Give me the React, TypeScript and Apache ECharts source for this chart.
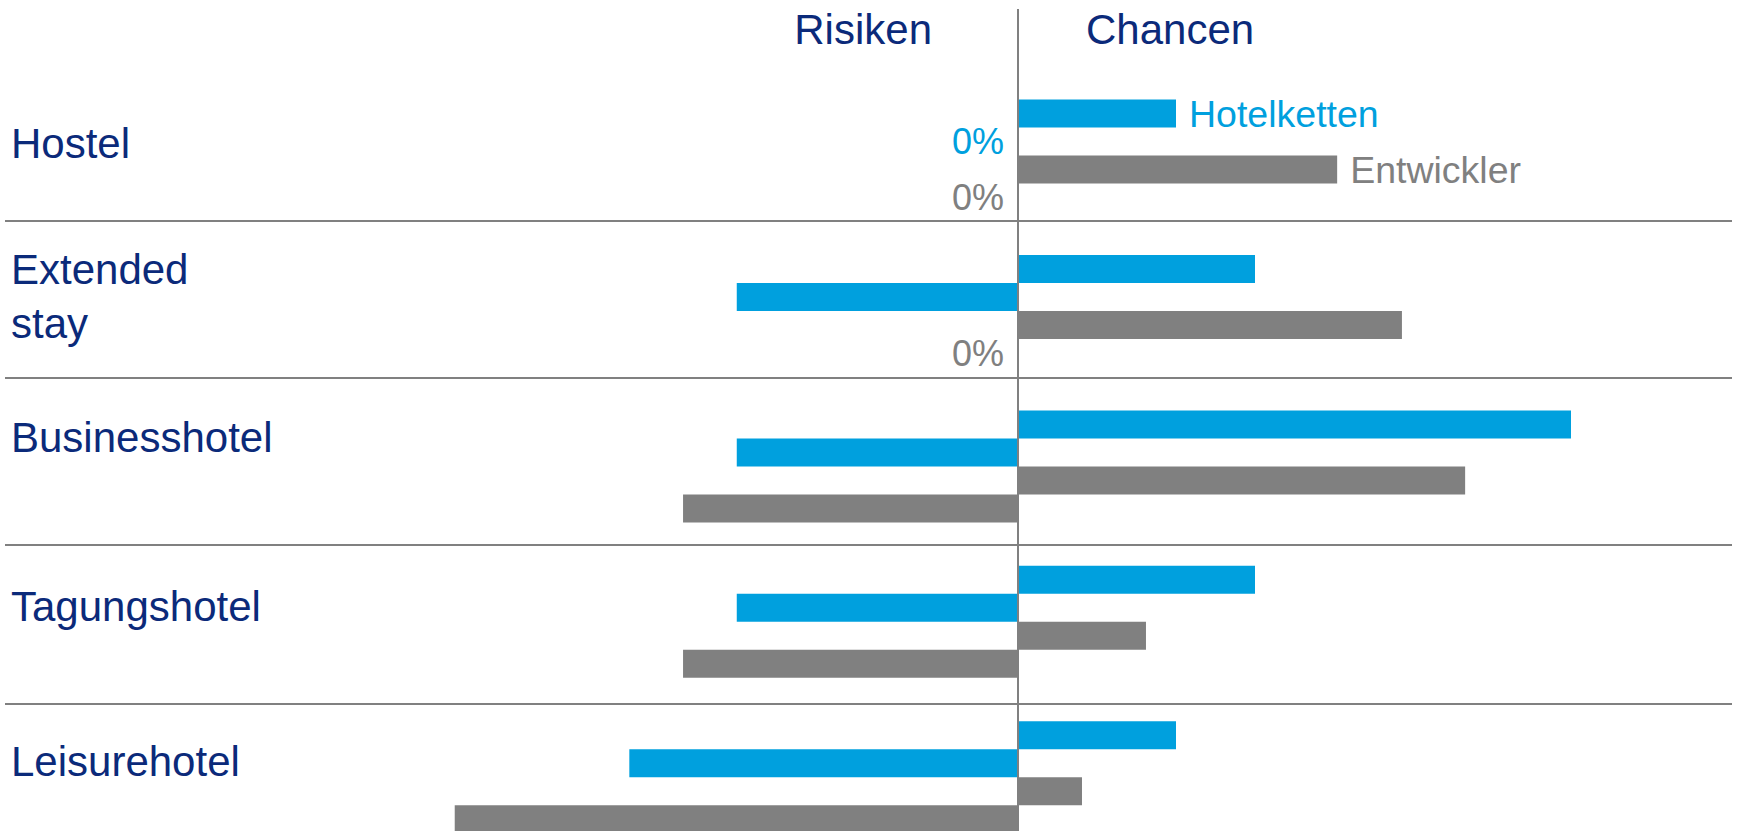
import React, { useEffect, useRef } from "react";
import * as echarts from "echarts";

// ---- data ----
const categories = ["Hostel", "Extended\nstay", "Businesshotel", "Tagungshotel", "Leisurehotel"];
const groupNames = ["Hotelketten", "Entwickler"];
const sideTitles = ["Risiken", "Chancen"];
const hotelkettenChancen = [20, 30, 70, 30, 20];
const hotelkettenRisiken = [0, 35.6, 35.6, 35.6, 49.2];
const entwicklerChancen = [40.4, 48.6, 56.6, 16.2, 8.1];
const entwicklerRisiken = [0, 0, 42.4, 42.4, 71.3];

// ---- styles / layout ----
const BLUE = "#00a0de";
const GRAY = "#808080";
const NAVY = "#0b2a7a";
const FONT = "'Liberation Sans', Arial, sans-serif";
const labelLift = [12.5, 14.5, 29, 15.5, 15.5];
const separatorY = [221, 378, 545, 704];

export default function App() {
  const ref = useRef<HTMLDivElement>(null);

  useEffect(() => {
    if (!ref.current) return;
    const chart = echarts.init(ref.current, undefined, { renderer: "svg" });

    const chanceLabel = (name: string, color: string) => ({
      show: true,
      position: "right",
      distance: 13,
      fontSize: 37.5,
      fontFamily: FONT,
      color,
      formatter: (p: any) => (p.dataIndex === 0 ? name : ""),
    });
    const riskLabel = (color: string) => ({
      show: true,
      position: "left",
      distance: 14,
      fontSize: 36,
      fontFamily: FONT,
      color,
      formatter: (p: any) => (Number(p.value) === 0 ? "0%" : ""),
    });

    chart.setOption({
      animation: false,
      grid: {
        left: 228,
        right: 87,
        top: 77.9,
        bottom: -24,
        containLabel: false,
        outerBoundsMode: "none",
      },
      xAxis: {
        type: "value",
        min: -100,
        max: 80,
        show: false,
        splitLine: { show: false },
      },
      yAxis: {
        type: "category",
        inverse: true,
        data: categories,
        axisLine: { show: false, onZero: false },
        axisTick: { show: false },
        splitLine: { show: false },
        axisLabel: { show: false },
      },
      series: [
        {
          name: groupNames[0] + " Chancen",
          type: "bar",
          barWidth: 28,
          barGap: "0%",
          itemStyle: { color: BLUE },
          label: chanceLabel(groupNames[0], BLUE),
          data: hotelkettenChancen,
        },
        {
          name: groupNames[0] + " Risiken",
          type: "bar",
          barWidth: 28,
          barGap: "0%",
          itemStyle: { color: BLUE },
          label: riskLabel(BLUE),
          data: hotelkettenRisiken.map((v) => -v),
        },
        {
          name: groupNames[1] + " Chancen",
          type: "bar",
          barWidth: 28,
          barGap: "0%",
          itemStyle: { color: GRAY },
          label: chanceLabel(groupNames[1], GRAY),
          data: entwicklerChancen,
        },
        {
          name: groupNames[1] + " Risiken",
          type: "bar",
          barWidth: 28,
          barGap: "0%",
          itemStyle: { color: GRAY },
          label: riskLabel(GRAY),
          data: entwicklerRisiken.map((v) => -v),
        },
      ],
    });

    const zeroX = chart.convertToPixel({ xAxisIndex: 0 }, 0) as number;
    const W = 1737;
    const H = 831;
    const graphic: any[] = [];
    separatorY.forEach((y) => {
      graphic.push({
        type: "line",
        shape: { x1: 5, y1: y, x2: W - 5, y2: y },
        style: { stroke: GRAY, lineWidth: 2 },
        z: 10,
      });
    });
    graphic.push({
      type: "line",
      shape: { x1: zeroX, y1: 9, x2: zeroX, y2: H },
      style: { stroke: GRAY, lineWidth: 2 },
      z: 11,
    });
    categories.forEach((c, i) => {
      const cy = chart.convertToPixel({ yAxisIndex: 0 }, c) as number;
      graphic.push({
        type: "text",
        x: 11,
        y: cy - labelLift[i],
        style: {
          text: c,
          fontSize: 42,
          lineHeight: 54,
          fontFamily: FONT,
          fill: NAVY,
          align: "left",
          verticalAlign: "middle",
        },
      });
    });
    graphic.push({
      type: "text",
      x: zeroX - 86,
      y: 29,
      style: {
        text: sideTitles[0],
        fontSize: 42,
        fontFamily: FONT,
        fill: NAVY,
        align: "right",
        verticalAlign: "middle",
      },
    });
    graphic.push({
      type: "text",
      x: zeroX + 68,
      y: 29,
      style: {
        text: sideTitles[1],
        fontSize: 42,
        fontFamily: FONT,
        fill: NAVY,
        align: "left",
        verticalAlign: "middle",
      },
    });
    chart.setOption({ graphic });

    return () => chart.dispose();
  }, []);

  return (
    <div
      ref={ref}
      style={{ position: "absolute", left: 0, top: 0, width: 1737, height: 831, background: "#fff" }}
    />
  );
}
